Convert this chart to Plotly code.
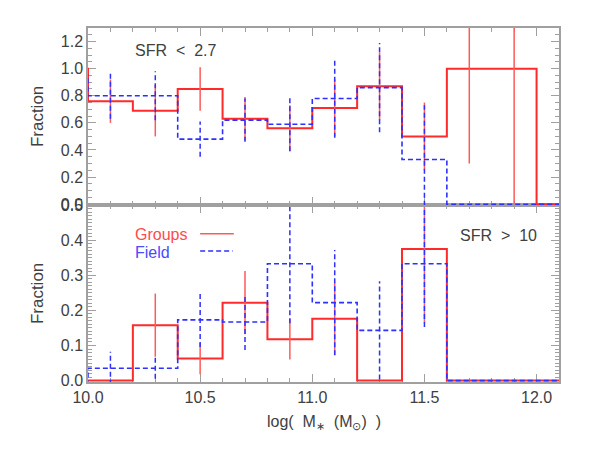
import plotly.graph_objects as go

# bins in log(M*) : left edges + closing edge
bin_edges = [9.8, 10.0, 10.2, 10.4, 10.6, 10.8, 11.0, 11.2, 11.4, 11.6, 11.8, 12.0, 12.2]
bin_centers = [10.1, 10.3, 10.5, 10.7, 10.9, 11.1, 11.3, 11.5, 11.7, 11.9]

# SFR < 2.7 (top panel); first value is the bin just below 10.0, last is beyond 12.0
groups_low = [1.0, 0.76, 0.69, 0.85, 0.63, 0.56, 0.71, 0.87, 0.50, 1.0, 1.0, 0.0]
groups_low_err = [0.16, 0.19, 0.16, 0.16, 0.17, 0.21, 0.25, 0.25, 0.70, 1.0]
field_low = [0.95, 0.80, 0.80, 0.48, 0.62, 0.59, 0.78, 0.86, 0.33, 0.0, 0.0, 0.0]
field_low_err = [0.17, 0.18, 0.13, 0.16, 0.20, 0.29, 0.33, 0.40, 0.0, 0.0]

# SFR > 10 (bottom panel)
groups_high = [0.0, 0.0, 0.158, 0.063, 0.222, 0.118, 0.176, 0.0, 0.375, 0.0, 0.0, 0.0]
groups_high_err = [0.0, 0.09, 0.045, 0.09, 0.058, 0.103, 0.0, 0.21, 0.0, 0.0]
field_high = [0.0, 0.035, 0.035, 0.173, 0.167, 0.333, 0.222, 0.143, 0.333, 0.0, 0.0, 0.0]
field_high_err = [0.047, 0.03, 0.077, 0.08, 0.17, 0.15, 0.14, 0.18, 0.0, 0.0]

RED = '#ff2a2a'
RED_ERR = '#ff5a5a'
BLUE = '#2f2fff'
GREY = '#a0a0a0'
TXT = '#404040'
FONT = 'Liberation Sans, Arial, sans-serif'


def hist_y(vals):
    # repeat last value so the final step closes at the last edge
    return vals + [vals[-1]]


def err_segments(centers, vals, errs):
    xs, ys = [], []
    for c, v, e in zip(centers, vals, errs):
        if e > 0:
            xs += [c, c, None]
            ys += [v - e, v + e, None]
    return xs, ys


fig = go.Figure()


def add_panel(groups, groups_err, field, field_err, xa, ya):
    fig.add_trace(go.Scatter(x=bin_edges, y=hist_y(groups), mode='lines', line_shape='hv',
                             line=dict(color=RED, width=2), xaxis=xa, yaxis=ya))
    ex, ey = err_segments(bin_centers, groups[1:-1], groups_err)
    fig.add_trace(go.Scatter(x=ex, y=ey, mode='lines', line=dict(color=RED_ERR, width=1.5),
                             xaxis=xa, yaxis=ya))
    fig.add_trace(go.Scatter(x=bin_edges, y=hist_y(field), mode='lines', line_shape='hv',
                             line=dict(color=BLUE, width=1.6, dash='5px,3px'), xaxis=xa, yaxis=ya))
    ex, ey = err_segments(bin_centers, field[1:-1], field_err)
    fig.add_trace(go.Scatter(x=ex, y=ey, mode='lines', line=dict(color=BLUE, width=1.5, dash='5px,3px'),
                             xaxis=xa, yaxis=ya))


add_panel(groups_low, groups_low_err, field_low, field_low_err, 'x2', 'y2')
add_panel(groups_high, groups_high_err, field_high, field_high_err, 'x', 'y')

axis_common = dict(showline=True, linecolor=GREY, linewidth=1.5, mirror='ticks',
                   ticks='inside', tickcolor=GREY, tickwidth=1, ticklen=8,
                   showgrid=False, zeroline=False, layer='below traces',
                   tickfont=dict(family=FONT, size=16, color=TXT))

# page body adds an 8px offset, so the figure is sized to fit the 589x449 window
fig.update_layout(
    width=581, height=441,
    margin=dict(l=80, r=30, t=14, b=67),
    paper_bgcolor='white', plot_bgcolor='white',
    showlegend=False,
    xaxis=dict(axis_common, range=[10.0, 12.1], dtick=0.5, tick0=10.0, tickformat='.1f',
               minor=dict(dtick=0.1, ticklen=4, tickcolor=GREY, ticks='inside'),
               anchor='y'),
    yaxis=dict(axis_common, domain=[0, 0.5], range=[-0.004, 0.5002], dtick=0.1, tickformat='.1f',
               minor=dict(dtick=0.01, ticklen=4, tickcolor=GREY, ticks='inside'),
               anchor='x'),
    xaxis2=dict(axis_common, range=[10.0, 12.1], dtick=0.5, tick0=10.0, showticklabels=False,
                minor=dict(dtick=0.1, ticklen=4, tickcolor=GREY, ticks='inside'),
                anchor='y2', matches='x'),
    yaxis2=dict(axis_common, domain=[0.5, 1], range=[-0.006, 1.3], dtick=0.2, tickformat='.1f',
                minor=dict(dtick=0.05, ticklen=4, tickcolor=GREY, ticks='inside'),
                anchor='x2'),
)

ann_font = dict(family=FONT, size=16, color=TXT)
fig.add_annotation(text='SFR  <  2.7', x=10.2, y=1.134, xref='x2', yref='y2',
                   xanchor='left', yanchor='middle', showarrow=False, font=ann_font)
fig.add_annotation(text='SFR  >  10', x=11.65, y=0.414, xref='x', yref='y',
                   xanchor='left', yanchor='middle', showarrow=False, font=ann_font)
fig.add_annotation(text='Groups', x=10.2, y=0.415, xref='x', yref='y',
                   xanchor='left', yanchor='middle', showarrow=False,
                   font=dict(family=FONT, size=16, color='#ff4a4a'))
fig.add_annotation(text='Field', x=10.2, y=0.366, xref='x', yref='y',
                   xanchor='left', yanchor='middle', showarrow=False,
                   font=dict(family=FONT, size=16, color='#4a4aff'))
fig.add_shape(type='line', x0=10.5, x1=10.65, y0=0.418, y1=0.418, xref='x', yref='y',
              line=dict(color=RED_ERR, width=1.5))
fig.add_shape(type='line', x0=10.5, x1=10.645, y0=0.369, y1=0.369, xref='x', yref='y',
              line=dict(color=BLUE, width=1.5, dash='5px,3px'))

for yc in [0.75, 0.25]:
    fig.add_annotation(text='Fraction', x=-0.107, y=yc, xref='paper', yref='paper',
                       textangle=-90, showarrow=False, xanchor='center', yanchor='middle',
                       font=dict(family=FONT, size=17, color=TXT))
fig.add_annotation(text='log(  M<sub>∗</sub>  (M<sub>⊙</sub>)  )', x=0.5, y=-0.115,
                   xref='paper', yref='paper', showarrow=False, xanchor='center',
                   yanchor='middle', font=dict(family=FONT, size=16, color=TXT))

fig.write_html("out.html")
